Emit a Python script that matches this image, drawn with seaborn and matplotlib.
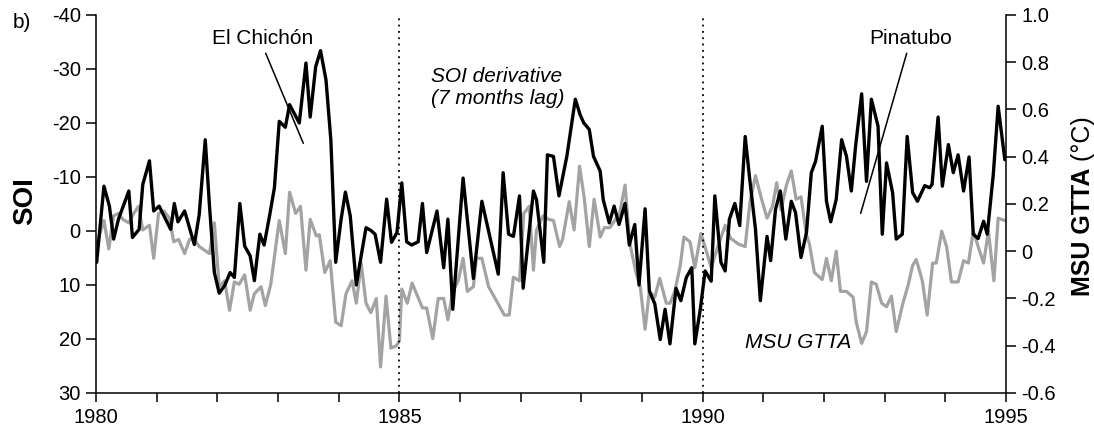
import numpy as np
import pandas as pd
import matplotlib
matplotlib.use("Agg")
import matplotlib.pyplot as plt
import seaborn as sns
from matplotlib.ticker import FixedLocator, FuncFormatter

# ---- data ----
soi_t = [1980.01, 1980.13, 1980.22, 1980.29, 1980.37, 1980.54, 1980.60, 1980.71, 1980.77, 1980.88,
         1980.95, 1981.04, 1981.23, 1981.29, 1981.35, 1981.46, 1981.62, 1981.70, 1981.80, 1981.87,
         1981.95, 1982.03, 1982.12, 1982.21, 1982.28, 1982.37, 1982.45, 1982.54, 1982.61, 1982.70,
         1982.77, 1982.86, 1982.94, 1983.02, 1983.12, 1983.19, 1983.35, 1983.46, 1983.53, 1983.62,
         1983.70, 1983.79, 1983.87, 1983.95, 1984.04, 1984.11, 1984.19, 1984.29, 1984.37, 1984.45,
         1984.53, 1984.60, 1984.69, 1984.79, 1984.87, 1984.96, 1985.04, 1985.12, 1985.20, 1985.31,
         1985.38, 1985.45, 1985.62, 1985.73, 1985.80, 1985.88, 1986.05, 1986.22, 1986.36, 1986.63,
         1986.71, 1986.80, 1986.88, 1986.98, 1987.04, 1987.21, 1987.26, 1987.38, 1987.44, 1987.54,
         1987.63, 1987.76, 1987.90, 1987.98, 1988.04, 1988.13, 1988.20, 1988.31, 1988.36, 1988.46,
         1988.54, 1988.62, 1988.72, 1988.79, 1988.88, 1988.95, 1989.05, 1989.12, 1989.21, 1989.30,
         1989.38, 1989.46, 1989.56, 1989.64, 1989.73, 1989.82, 1989.87, 1989.96, 1990.04, 1990.14,
         1990.20, 1990.30, 1990.37, 1990.44, 1990.53, 1990.61, 1990.70, 1990.77, 1990.87, 1990.95,
         1991.06, 1991.12, 1991.20, 1991.28, 1991.37, 1991.46, 1991.53, 1991.62, 1991.71, 1991.79,
         1991.86, 1991.97, 1992.04, 1992.11, 1992.20, 1992.29, 1992.37, 1992.45, 1992.52, 1992.62,
         1992.70, 1992.78, 1992.89, 1992.96, 1993.03, 1993.13, 1993.19, 1993.29, 1993.37, 1993.46,
         1993.54, 1993.66, 1993.74, 1993.78, 1993.88, 1993.95, 1994.05, 1994.13, 1994.21, 1994.30,
         1994.39, 1994.46, 1994.54, 1994.63, 1994.69, 1994.79, 1994.87, 1994.98]
soi_v = [5.8, -8.3, -4.6, 1.5, -2.2, -7.4, 1.2, -0.3, -8.6, -13.0,
         -3.7, -4.6, -0.3, -5.1, -1.7, -3.7, 2.5, -3.0, -16.9, -4.6,
         7.7, 11.5, 10.1, 7.7, 8.6, -5.1, 2.8, 4.6, 9.2, 0.6,
         2.6, -2.8, -8.0, -20.3, -19.2, -23.4, -20.0, -31.1, -21.1, -30.4,
         -33.4, -28.0, -16.9, 5.8, -2.2, -7.2, -2.8, 10.0, 4.6, -0.6,
         -0.1, 0.6, 5.8, -5.9, 2.1, 0.3, -8.9, 2.0, 2.6, 2.0,
         -5.1, 4.0, -3.7, 6.8, -2.2, 14.5, -9.8, 8.8, -5.5, 8.0,
         -10.8, 0.6, 1.0, -6.5, 10.6, -7.4, -5.8, 5.8, -14.1, -13.8,
         -6.5, -13.8, -24.4, -21.5, -20.0, -18.8, -13.8, -11.1, -5.8, -1.5,
         -4.6, -1.2, -5.1, 2.6, -1.2, 10.0, -4.1, 11.1, 13.5, 20.1,
         14.5, 20.9, 10.6, 12.9, 8.6, 6.8, 20.9, 14.5, 7.4, 9.3,
         -6.5, 5.8, 7.4, -2.2, -5.1, -1.0, -17.5, -10.1, -0.3, 12.9,
         1.0, 5.5, -4.0, -7.4, 1.5, -5.5, -3.4, 4.9, 0.3, -10.8,
         -12.9, -19.4, -5.5, -1.7, -5.8, -16.9, -13.8, -7.4, -15.7, -25.4,
         -9.2, -24.4, -19.4, 0.6, -12.6, -7.1, 1.5, 0.6, -17.5, -7.1,
         -5.5, -8.4, -8.0, -8.6, -21.1, -8.3, -16.0, -10.8, -14.1, -7.4,
         -13.7, 0.6, 1.4, -1.8, 0.6, -10.5, -23.1, -13.2]

msu_t = [1980.01, 1980.13, 1980.21, 1980.29, 1980.37, 1980.44, 1980.54, 1980.62, 1980.70, 1980.77,
         1980.88, 1980.95, 1981.03, 1981.12, 1981.21, 1981.28, 1981.36, 1981.46, 1981.54, 1981.62,
         1981.70, 1981.87, 1981.95, 1982.03, 1982.12, 1982.20, 1982.28, 1982.36, 1982.45, 1982.54,
         1982.61, 1982.72, 1982.79, 1982.88, 1983.02, 1983.12, 1983.19, 1983.29, 1983.37, 1983.46,
         1983.53, 1983.63, 1983.68, 1983.77, 1983.86, 1983.95, 1984.04, 1984.12, 1984.22, 1984.29,
         1984.37, 1984.45, 1984.53, 1984.62, 1984.69, 1984.78, 1984.86, 1984.95, 1985.00, 1985.04,
         1985.13, 1985.21, 1985.38, 1985.45, 1985.55, 1985.64, 1985.73, 1985.80, 1985.88, 1985.97,
         1986.05, 1986.12, 1986.22, 1986.27, 1986.36, 1986.47, 1986.60, 1986.73, 1986.81, 1986.88,
         1986.98, 1987.05, 1987.14, 1987.21, 1987.26, 1987.37, 1987.46, 1987.54, 1987.64, 1987.69,
         1987.80, 1987.88, 1987.97, 1988.05, 1988.13, 1988.21, 1988.31, 1988.38, 1988.47, 1988.63,
         1988.72, 1988.80, 1988.90, 1988.97, 1989.05, 1989.12, 1989.21, 1989.29, 1989.40, 1989.46,
         1989.54, 1989.63, 1989.69, 1989.79, 1989.87, 1989.97, 1990.06, 1990.14, 1990.25, 1990.37,
         1990.46, 1990.59, 1990.70, 1990.78, 1990.87, 1990.96, 1991.06, 1991.15, 1991.22, 1991.29,
         1991.38, 1991.46, 1991.54, 1991.62, 1991.71, 1991.76, 1991.84, 1991.97, 1992.04, 1992.12,
         1992.20, 1992.27, 1992.37, 1992.48, 1992.53, 1992.62, 1992.70, 1992.78, 1992.86, 1992.95,
         1993.03, 1993.11, 1993.19, 1993.30, 1993.39, 1993.46, 1993.52, 1993.62, 1993.70, 1993.79,
         1993.85, 1993.94, 1994.02, 1994.10, 1994.21, 1994.30, 1994.38, 1994.46, 1994.54, 1994.63,
         1994.71, 1994.80, 1994.87, 1994.98]
msu_v = [0.03, 0.13, 0.01, 0.15, 0.16, 0.135, 0.12, 0.16, 0.19, 0.09,
         0.11, -0.03, 0.16, 0.17, 0.14, 0.04, 0.05, -0.01, 0.05, 0.05,
         0.02, -0.01, 0.12, -0.15, -0.125, -0.25, -0.13, -0.14, -0.10, -0.25,
         -0.18, -0.15, -0.23, -0.14, 0.13, -0.01, 0.25, 0.16, 0.19, -0.08,
         0.135, 0.065, 0.07, -0.09, -0.04, -0.30, -0.315, -0.18, -0.125, -0.22,
         -0.05, -0.22, -0.26, -0.20, -0.49, -0.19, -0.41, -0.40, -0.38, -0.16,
         -0.22, -0.135, -0.24, -0.24, -0.37, -0.20, -0.20, -0.29, -0.17, -0.125,
         -0.03, -0.17, -0.15, -0.03, -0.03, -0.15, -0.21, -0.27, -0.27, -0.11,
         -0.125, 0.16, 0.19, -0.08, 0.09, 0.15, 0.135, 0.13, 0.02, 0.05,
         0.21, 0.09, 0.36, 0.22, 0.02, 0.22, 0.06, 0.10, 0.10, 0.16,
         0.28, 0.03, -0.09, -0.15, -0.33, -0.17, -0.195, -0.115, -0.22, -0.22,
         -0.17, -0.06, 0.06, 0.04, -0.07, 0.075, 0.0, -0.07, 0.02, 0.11,
         0.055, 0.03, 0.02, 0.21, 0.32, 0.23, 0.14, 0.19, 0.29, 0.175,
         0.28, 0.34, 0.22, 0.23, 0.07, 0.03, -0.09, -0.12, -0.03, -0.125,
         0.0, -0.17, -0.17, -0.195, -0.30, -0.39, -0.34, -0.13, -0.14, -0.22,
         -0.235, -0.19, -0.34, -0.22, -0.14, -0.06, -0.035, -0.125, -0.27, -0.05,
         -0.05, 0.085, 0.02, -0.13, -0.13, -0.04, -0.05, 0.085, 0.02, -0.05,
         0.085, -0.125, 0.14, 0.13]

x_major = [1980, 1985, 1990, 1995]
x_ticks = list(range(1980, 1996))
soi_ticks = [-40, -30, -20, -10, 0, 10, 20, 30]
msu_ticks = [-0.6, -0.4, -0.2, 0, 0.2, 0.4, 0.6, 0.8, 1.0]

# ---- style ----
sns.set_style("ticks")
plt.rcParams['font.family'] = ['Liberation Sans', 'DejaVu Sans']
plt.rcParams['axes.linewidth'] = 1.1
plt.rcParams['text.color'] = 'black'
plt.rcParams['axes.labelcolor'] = 'black'
plt.rcParams['xtick.color'] = 'black'
plt.rcParams['ytick.color'] = 'black'
plt.rcParams['axes.edgecolor'] = 'black'

fig = plt.figure(figsize=(10.94, 4.28), dpi=100)
ax = fig.add_axes([0.0878, 0.0818, 0.9196 - 0.0878, 0.965 - 0.0818])
ax2 = ax.twinx()
ax.set_zorder(ax2.get_zorder() + 1)
ax.patch.set_visible(False)

soi_df = pd.DataFrame({"t": soi_t, "v": soi_v})
msu_df = pd.DataFrame({"t": msu_t, "v": msu_v})

sns.lineplot(data=msu_df, x="t", y="v", ax=ax2, color="#a3a3a3", lw=2.3,
             sort=False, estimator=None)
sns.lineplot(data=soi_df, x="t", y="v", ax=ax, color="black", lw=2.4,
             sort=False, estimator=None)

for xv in [1985, 1990]:
    ax.axvline(xv, color="black", lw=1.3, ls=(0, (1, 2.5)), zorder=1)

ax.set_xlim(1980, 1995)
ax.set_ylim(30, -40)
ax2.set_ylim(-0.6, 1.0)

ax.xaxis.set_major_locator(FixedLocator(x_ticks))
ax.xaxis.set_major_formatter(FuncFormatter(lambda v, p: str(int(round(v))) if int(round(v)) in x_major else ""))
ax.yaxis.set_major_locator(FixedLocator(soi_ticks))
ax.yaxis.set_major_formatter(FuncFormatter(lambda v, p: str(int(round(v)))))
ax2.yaxis.set_major_locator(FixedLocator(msu_ticks))
ax2.yaxis.set_major_formatter(FuncFormatter(lambda v, p: "0" if abs(v) < 1e-9 else f"{v:.1f}"))

for a in (ax, ax2):
    a.tick_params(direction="out", width=1.1, labelsize=14.5, colors="black")
    a.tick_params(axis="y", length=7.5, pad=3.5)
    a.tick_params(axis="x", length=6.5, pad=4)
    a.spines["top"].set_visible(False)
    a.set_xlabel("")
    a.set_ylabel("")
ax.spines["right"].set_visible(False)
ax2.spines["left"].set_visible(False)
ax2.spines["bottom"].set_visible(False)

# axis titles
fig.text(25 / 1094, 1 - 201 / 428, "SOI", rotation=90, fontsize=20, fontweight="bold",
         ha="center", va="center")
yj = 1 - 168 / 428
fig.text(1083 / 1094, yj, " (°C)", rotation=90, fontsize=18, va="bottom", ha="center")
fig.text(1083 / 1094, yj, "MSU GTTA", rotation=90, fontsize=18, fontweight="bold",
         va="top", ha="center")

# annotations
fig.text(263 / 1094, 1 - 38 / 428, "El Chichón", fontsize=15, ha="center", va="center")
fig.text(911 / 1094, 1 - 39 / 428, "Pinatubo", fontsize=15, ha="center", va="center")
fig.text(431 / 1094, 1 - 76 / 428, "SOI derivative", fontsize=15, style="italic", ha="left", va="center")
fig.text(431 / 1094, 1 - 99 / 428, "(7 months lag)", fontsize=15, style="italic", ha="left", va="center")
fig.text(745 / 1094, 1 - 343 / 428, "MSU GTTA", fontsize=15, style="italic", ha="left", va="center")
fig.text(13 / 1094, 1 - 22 / 428, "b)", fontsize=15, ha="left", va="center")


def px(x, y):
    return ax.transData.inverted().transform(fig.transFigure.transform((x / 1094, 1 - y / 428)))


fig.canvas.draw()
a0, a1 = px(265.7, 53.3), px(303.3, 143.3)
ax.plot([a0[0], a1[0]], [a0[1], a1[1]], color="black", lw=1.1)
b0, b1 = px(906.7, 53.3), px(860.7, 213.3)
ax.plot([b0[0], b1[0]], [b0[1], b1[1]], color="black", lw=1.1)

fig.savefig("out.png", dpi=100)
